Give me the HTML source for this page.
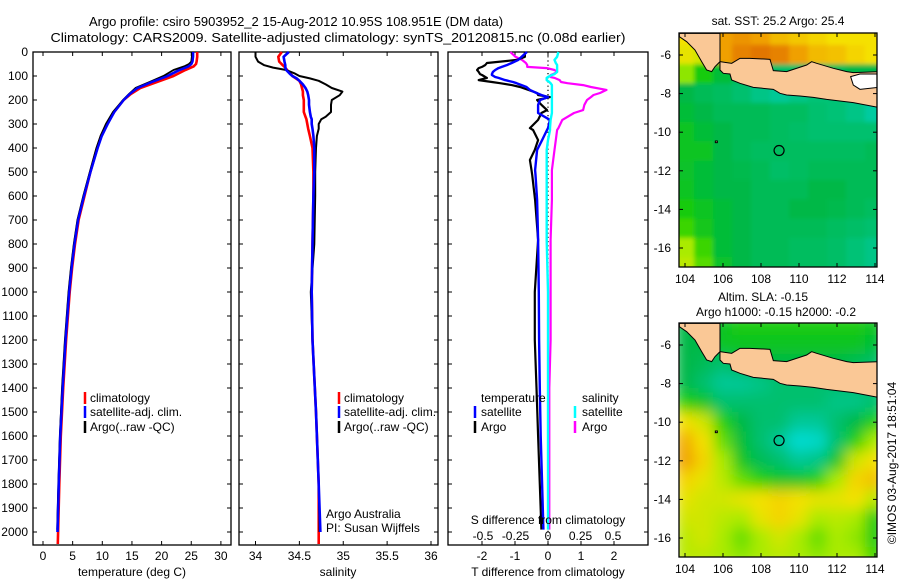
<!DOCTYPE html>
<html><head><meta charset="utf-8">
<style>
html,body{margin:0;padding:0;background:#fff;}
svg{display:block;font-family:"Liberation Sans",sans-serif;}
text{fill:#000;}
</style></head>
<body>
<svg id="chart" width="900" height="580" viewBox="0 0 900 580" xmlns="http://www.w3.org/2000/svg">
<defs>
<clipPath id="cp1"><rect x="33" y="45" width="198" height="500"/></clipPath>
<clipPath id="cp2"><rect x="239" y="45" width="199" height="500"/></clipPath>
<clipPath id="cp3"><rect x="448" y="45" width="200" height="500"/></clipPath>
<clipPath id="cpm1"><rect x="679" y="33" width="198" height="234"/></clipPath>
<clipPath id="cpm2"><rect x="679" y="323" width="198" height="234"/></clipPath>
<filter id="blur1" x="-5%" y="-5%" width="110%" height="110%"><feGaussianBlur stdDeviation="2"/></filter>
<filter id="blur2" x="-5%" y="-5%" width="110%" height="110%"><feGaussianBlur stdDeviation="7"/></filter>
</defs>
<text x="296" y="26" font-size="13" text-anchor="middle">Argo profile: csiro 5903952_2 15-Aug-2012 10.95S 108.951E (DM data)</text>
<text x="338" y="42" font-size="13" text-anchor="middle" textLength="575" lengthAdjust="spacingAndGlyphs">Climatology: CARS2009. Satellite-adjusted climatology: synTS_20120815.nc (0.08d earlier)</text>
<g id="g"></g>
<text x="778" y="25" font-size="12" text-anchor="middle">sat. SST: 25.2 Argo: 25.4</text>
<text x="763" y="301" font-size="12" text-anchor="middle">Altim. SLA: -0.15</text>
<text x="776" y="316" font-size="12" text-anchor="middle">Argo h1000: -0.15 h2000: -0.2</text>
<text transform="translate(896,463) rotate(-90)" font-size="12" text-anchor="middle">©IMOS 03-Aug-2017 18:51:04</text>
<text x="326" y="518" font-size="12">Argo Australia</text>
<text x="326" y="532" font-size="12">PI: Susan Wijffels</text>
</svg>
<script>
// ---- temperature panel data ----
const tDepth = [0,20,40,50,60,75,100,125,150,175,200,250,300,350,400,500,600,700,800,900,1000,1200,1400,1600,1800,2000,2050];
const tClim  = [26.0,26.0,25.9,25.8,25.4,24.0,22.0,19.2,16.4,14.8,13.6,12.0,10.8,9.8,9.1,8.0,7.0,6.0,5.4,4.9,4.5,3.9,3.4,3.0,2.75,2.55,2.5];
const tSat   = [25.3,25.3,25.2,25.0,24.5,23.0,21.0,18.3,15.9,14.6,13.6,12.0,10.9,9.9,9.2,8.0,6.9,5.9,5.3,4.8,4.4,3.8,3.3,2.9,2.65,2.45];
const tArgo  = [25.2,25.1,25.0,24.6,23.8,22.0,20.3,18.0,15.6,14.5,13.5,11.8,10.6,9.7,9.0,7.9,6.8,5.8,5.2,4.7,4.3,3.7,3.2,2.85,2.6,2.4];
const tTicks = [0,5,10,15,20,25,30];
// ---- salinity panel data ----
const sDepth = [0,20,40,55,65,75,90,100,110,120,135,150,165,180,200,220,250,270,280,300,320,350,400,500,600,800,1000,1200,1500,1800,2000,2050];
const sClim  = [34.30,34.26,34.27,34.31,34.34,34.36,34.40,34.42,34.46,34.50,34.52,34.53,34.54,34.54,34.55,34.55,34.55,34.57,34.58,34.59,34.60,34.62,34.65,34.66,34.66,34.65,34.64,34.65,34.69,34.72,34.72,34.72];
const sSat   = [34.38,34.32,34.33,34.34,34.34,34.35,34.39,34.42,34.47,34.50,34.54,34.57,34.59,34.60,34.61,34.61,34.62,34.63,34.64,34.64,34.65,34.66,34.67,34.67,34.66,34.65,34.64,34.65,34.69,34.72,34.74];
const sArgo  = [34.00,34.00,34.03,34.10,34.20,34.35,34.45,34.50,34.62,34.72,34.80,34.87,34.99,34.96,34.87,34.86,34.86,34.80,34.75,34.72,34.72,34.70,34.69,34.68,34.68,34.67,34.63,34.65,34.69,34.72,34.73];
const sTicks = [34,34.5,35,35.5,36];
// ---- difference panel data ----
const dDepth = [0,20,33,46,54,62,67,75,83,92,96,104,108,117,125,130,138,146,158,171,179,188,200,220,242,254,283,317,325,367,408,450,492,512,617,783,1000,1200,1400,1600,1800,1990];
const tDiffArgo = [-0.7,-0.7,-0.94,-1.85,-1.9,-2.0,-2.1,-2.15,-2.1,-2.06,-2.0,-1.9,-1.85,-2.1,-1.7,-1.45,-1.1,-0.85,-0.6,-0.33,-0.3,0.06,-0.33,-0.2,-0.03,-0.2,-0.3,-0.55,-0.45,-0.3,-0.4,-0.55,-0.5,-0.48,-0.39,-0.3,-0.4,-0.4,-0.35,-0.3,-0.25,-0.2];
const tDiffSat  = [-0.64,-0.8,-0.9,-1.1,-1.24,-1.4,-1.5,-1.6,-1.67,-1.7,-1.7,-1.6,-1.5,-1.3,-1.06,-0.95,-0.8,-0.65,-0.55,-0.35,-0.2,0.0,-0.24,-0.3,-0.3,-0.3,0.06,0.0,-0.03,-0.18,-0.33,-0.36,-0.39,-0.38,-0.33,-0.3,-0.28,-0.27,-0.25,-0.22,-0.18,-0.14];
const sDiffSat  = [0.08,0.07,0.05,0.06,0.07,0.07,0.07,0.07,0.07,0.05,0.03,0.0,-0.01,-0.01,0.01,0.02,0.03,0.03,0.03,0.03,0.03,0.03,0.03,0.03,0.03,0.03,0.02,0.015,0.015,0.0,-0.01,-0.01,-0.01,-0.01,-0.01,-0.01,0.0,0.0,0.0,0.0,0.0,0.0];
const sDiffArgo = [-0.29,-0.25,-0.2,-0.17,-0.16,-0.16,-0.01,0.05,0.07,0.04,0.02,0.02,0.05,0.09,0.1,0.15,0.27,0.33,0.45,0.4,0.35,0.33,0.3,0.28,0.27,0.2,0.11,0.08,0.07,0.06,0.05,0.04,0.03,0.03,0.03,0.02,0.02,0.02,0.01,0.01,0.01,0.01];
const dTTicks = [-2,-1,0,1,2];
const dSTicks = [-0.5,-0.25,0,0.25,0.5];
const dSTickLabels = ["-0.5","-0.25","0","0.25","0.5"];
const depthTicks = [0,100,200,300,400,500,600,700,800,900,1000,1100,1200,1300,1400,1500,1600,1700,1800,1900,2000];
// ---- map data (colour index 0..1) rows lat -5..-17, cols lon 104..114 ----
const mapLons = [104,105,106,107,108,109,110,111,112,113,114];
const mapLats = [-5,-6,-7,-8,-9,-10,-11,-12,-13,-14,-15,-16,-17];
const sstGrid = [
 [0.80,0.80,0.90,0.92,0.90,0.86,0.84,0.82,0.80,0.80,0.80],
 [0.78,0.75,0.90,0.95,0.97,0.95,0.90,0.86,0.85,0.82,0.80],
 [0.68,0.58,0.52,0.48,0.46,0.46,0.46,0.46,0.48,0.50,0.50],
 [0.50,0.48,0.47,0.45,0.42,0.40,0.42,0.44,0.44,0.42,0.36],
 [0.52,0.50,0.48,0.48,0.48,0.47,0.47,0.45,0.44,0.42,0.38],
 [0.55,0.52,0.50,0.48,0.48,0.47,0.46,0.45,0.45,0.45,0.45],
 [0.55,0.55,0.50,0.48,0.47,0.47,0.47,0.47,0.47,0.47,0.48],
 [0.54,0.52,0.50,0.49,0.48,0.46,0.47,0.48,0.48,0.48,0.48],
 [0.55,0.52,0.50,0.50,0.48,0.48,0.48,0.50,0.50,0.48,0.48],
 [0.58,0.55,0.52,0.50,0.48,0.48,0.50,0.50,0.49,0.48,0.47],
 [0.62,0.56,0.52,0.50,0.48,0.48,0.48,0.48,0.47,0.46,0.45],
 [0.70,0.62,0.52,0.50,0.48,0.48,0.47,0.47,0.46,0.44,0.42],
 [0.72,0.64,0.54,0.50,0.48,0.48,0.47,0.47,0.46,0.44,0.42]];
const slaGrid = [
 [0.50,0.50,0.55,0.58,0.58,0.58,0.58,0.58,0.58,0.58,0.55],
 [0.50,0.50,0.55,0.55,0.55,0.55,0.55,0.55,0.55,0.55,0.52],
 [0.50,0.48,0.45,0.50,0.50,0.50,0.50,0.50,0.50,0.48,0.45],
 [0.50,0.45,0.40,0.40,0.42,0.45,0.45,0.45,0.45,0.45,0.45],
 [0.60,0.55,0.45,0.45,0.45,0.45,0.45,0.45,0.42,0.42,0.45],
 [0.80,0.75,0.60,0.50,0.45,0.45,0.40,0.40,0.45,0.50,0.60],
 [0.88,0.80,0.65,0.52,0.45,0.40,0.28,0.30,0.45,0.60,0.70],
 [0.90,0.82,0.70,0.55,0.48,0.45,0.40,0.42,0.55,0.75,0.80],
 [0.82,0.78,0.72,0.65,0.60,0.55,0.55,0.60,0.70,0.82,0.85],
 [0.78,0.75,0.75,0.78,0.80,0.82,0.80,0.78,0.78,0.80,0.72],
 [0.75,0.75,0.72,0.70,0.78,0.82,0.78,0.70,0.72,0.70,0.58],
 [0.72,0.75,0.70,0.65,0.70,0.75,0.70,0.65,0.70,0.68,0.58],
 [0.72,0.72,0.70,0.68,0.70,0.72,0.70,0.68,0.70,0.70,0.62]];
const mapXTicks = [104,106,108,110,112,114];
const mapYTicks = [-6,-8,-10,-12,-14,-16];
const argoLon = 108.951, argoLat = -10.95;

const NS = "http://www.w3.org/2000/svg";
const G = document.getElementById('g');
function mk(tag, attrs, parent) {
  const e = document.createElementNS(NS, tag);
  for (const k in attrs) e.setAttribute(k, attrs[k]);
  (parent || G).appendChild(e);
  return e;
}
function txt(x, y, s, size, anchor, parent) {
  const t = mk('text', {x: x, y: y, 'font-size': size, 'text-anchor': anchor || 'middle'}, parent);
  t.textContent = s;
  return t;
}
const yD = d => 52 + d * 0.24;
const xT = v => 43 + v * 5.93;
const xS = v => 255.5 + (v - 34) * 87.75;
const xDT = v => 548 + v * 33;
const xDS = v => 548 + v * 130;

function frame(x0, x1, name) {
  const r = mk('rect', {x: x0, y: 52, width: x1 - x0, height: 493, fill: 'none', stroke: '#000', 'stroke-width': 1.3});
  
  
  depthTicks.forEach(d => {
    mk('line', {x1: x0, x2: x0 + 4, y1: yD(d), y2: yD(d), stroke: '#000'});
    mk('line', {x1: x1 - 4, x2: x1, y1: yD(d), y2: yD(d), stroke: '#000'});
  });
}
function xTicks(vals, labels, sc, name) {
  vals.forEach((v, i) => {
    const x = sc(v);
    mk('line', {x1: x, x2: x, y1: 545, y2: 541, stroke: '#000'});
    mk('line', {x1: x, x2: x, y1: 52, y2: 56, stroke: '#000'});
    const t = txt(x, 560, labels[i], 12);
    
    
  });
}
function line(depths, vals, sc, color, clip, name, w) {
  const n = Math.min(depths.length, vals.length);
  let d = '';
  for (let i = 0; i < n; i++) d += (i ? 'L' : 'M') + sc(vals[i]).toFixed(1) + ' ' + yD(depths[i]).toFixed(1);
  const p = mk('path', {d: d, fill: 'none', stroke: color, 'stroke-width': w || 2.6, 'stroke-linejoin': 'round', 'clip-path': 'url(#' + clip + ')'});
  
  
}
function legendRow(bx, tx, y, color, label, name) {
  if (color) mk('line', {x1: bx, x2: bx, y1: y - 6, y2: y + 6, stroke: color, 'stroke-width': 2.5});
  const t = txt(tx, y + 4, label, 12, 'start');
  
  
}

depthTicks.forEach(d => {
  const t = txt(28, yD(d) + 4, String(d), 12, 'end');
  
  
});

frame(33, 231, 'temperature-panel-frame');
xTicks(tTicks, tTicks.map(String), xT, 'temperature-tick-label');
line(tDepth, tClim, xT, '#ff0000', 'cp1', 'temperature-climatology-line');
line(tDepth, tSat, xT, '#0000ff', 'cp1', 'temperature-satellite-line');
line(tDepth.slice(0, 25).concat([1990]), tArgo.slice(0, 26), xT, '#000000', 'cp1', 'temperature-argo-line', 1.8);
line(tDepth, tSat, xT, '#0000ff', 'cp1', 'temperature-satellite-line-top', 2.2);
legendRow(85, 90, 398, '#ff0000', 'climatology', 'legend-climatology');
legendRow(85, 90, 412, '#0000ff', 'satellite-adj. clim.', 'legend-satellite');
legendRow(85, 90, 427, '#000000', 'Argo(..raw -QC)', 'legend-argo');
let t1 = txt(132, 576, 'temperature (deg C)', 12);



frame(239, 438, 'salinity-panel-frame');
xTicks(sTicks, sTicks.map(String), xS, 'salinity-tick-label');
line(sDepth, sClim, xS, '#ff0000', 'cp2', 'salinity-climatology-line');
line(sDepth, sArgo, xS, '#000000', 'cp2', 'salinity-argo-line', 2);
line(sDepth, sSat, xS, '#0000ff', 'cp2', 'salinity-satellite-line');
legendRow(339, 344, 398, '#ff0000', 'climatology', 'legend-climatology-2');
legendRow(339, 344, 412, '#0000ff', 'satellite-adj. clim.', 'legend-satellite-2');
legendRow(339, 344, 427, '#000000', 'Argo(..raw -QC)', 'legend-argo-2');
let t2 = txt(338, 576, 'salinity', 12);



frame(448, 648, 'difference-panel-frame');
xTicks(dTTicks, dTTicks.map(String), xDT, 'tdiff-tick-label');
mk('line', {x1: 548, x2: 548, y1: 52, y2: 545, stroke: '#000', 'stroke-width': 1.2, 'stroke-dasharray': '1.2 3'});
line(dDepth, sDiffArgo, xDS, '#ff00ff', 'cp3', 'salinity-diff-argo-line', 2.2);
line(dDepth, tDiffArgo, xDT, '#000000', 'cp3', 'temperature-diff-argo-line', 2.2);
line(dDepth, tDiffSat, xDT, '#0000ff', 'cp3', 'temperature-diff-satellite-line', 2.4);
line(dDepth, sDiffSat, xDS, '#00ffff', 'cp3', 'salinity-diff-satellite-line', 2.4);
legendRow(475, 481, 398, null, 'temperature', 'legend-temperature-heading');
legendRow(475, 481, 412, '#0000ff', 'satellite', 'legend-t-satellite');
legendRow(475, 481, 427, '#000000', 'Argo', 'legend-t-argo');
legendRow(575, 582, 398, null, 'salinity', 'legend-salinity-heading');
legendRow(575, 582, 412, '#00ffff', 'satellite', 'legend-s-satellite');
legendRow(575, 582, 427, '#ff00ff', 'Argo', 'legend-s-argo');
let t3 = txt(548, 524, 'S difference from climatology', 12);


dSTicks.forEach((v, i) => {
  const t = txt(xDS(v), 540, dSTickLabels[i], 12);
  
  
});
let t4 = txt(548, 576, 'T difference from climatology', 12);



const stops = [[0,[0,64,255]],[0.25,[0,224,224]],[0.4,[0,200,150]],[0.5,[0,184,70]],[0.6,[30,208,0]],[0.7,[170,235,0]],[0.8,[245,225,0]],[0.9,[240,160,0]],[1,[220,100,0]]];
function cmap(v) {
  for (let i = 1; i < stops.length; i++) {
    if (v <= stops[i][0]) {
      const a = stops[i-1], b = stops[i], f = (v - a[0]) / (b[0] - a[0]);
      const c = a[1].map((x, k) => Math.round(x + (b[1][k] - x) * f));
      return 'rgb(' + c.join(',') + ')';
    }
  }
  return 'rgb(220,100,0)';
}
const mxLon = lon => 685 + (lon - 104) * 19;
function drawMap(grid, off, clip, blur, name) {
  const myLat = lat => 55 + off + (-6 - lat) * 19.3;
  const wrap = mk('g', {'clip-path': 'url(#' + clip + ')'});
  
  
  const cells = mk('g', {filter: 'url(#' + blur + ')'}, wrap);
  grid.forEach((row, r) => row.forEach((v, c) => {
    const lon = mapLons[c], lat = mapLats[r];
    const cell = mk('rect', {x: mxLon(lon - 0.5) - 0.5, y: myLat(lat + 0.5) - 0.5, width: 20, height: 20.3, fill: cmap(v)}, cells);
    
    
  }));
  const lg = mk('g', {transform: 'translate(640,' + off + ') scale(0.3333)'}, wrap);
  const sum = mk('polygon', {points: '118,100 240,100 240,185 225,200 215,215 200,210 185,185 165,150 140,125 118,110', fill: '#fac896', stroke: '#000', 'stroke-width': 3}, lg);
  
  
  const java = mk('polygon', {points: '240,185 275,190 300,175 330,175 390,178 400,212 440,215 500,195 515,185 530,190 580,205 620,215 640,218 715,215 715,322 640,308 560,298 520,292 480,288 440,285 420,280 400,268 340,262 300,250 275,240 270,222 250,220 240,210', fill: '#fac896', stroke: '#000', 'stroke-width': 3}, lg);
  
  
  if (off === 0) {
    const wb = mk('polygon', {points: '632,230 660,222 715,222 715,262 660,268 640,255', fill: '#ffffff', stroke: '#000', 'stroke-width': 3}, lg);
    
    
  }
  mk('rect', {x: 226, y: 423, width: 6, height: 5, fill: '#fac896', stroke: '#000', 'stroke-width': 3}, lg);
  const fr = mk('rect', {x: 679, y: 33 + off, width: 198, height: 234, fill: 'none', stroke: '#000', 'stroke-width': 1.3});
  
  
  mapXTicks.forEach(v => {
    const x = mxLon(v);
    mk('line', {x1: x, x2: x, y1: 33 + off, y2: 37 + off, stroke: '#000'});
    mk('line', {x1: x, x2: x, y1: 267 + off, y2: 263 + off, stroke: '#000'});
    const t = txt(x, 283 + off, String(v), 12);
    
    
  });
  mapYTicks.forEach(v => {
    const y = myLat(v);
    mk('line', {x1: 679, x2: 683, y1: y, y2: y, stroke: '#000'});
    mk('line', {x1: 873, x2: 877, y1: y, y2: y, stroke: '#000'});
    const t = txt(671, y + 4, String(v), 12, 'end');
    
    
  });
  const m = mk('circle', {cx: mxLon(argoLon), cy: myLat(argoLat), r: 5, fill: 'none', stroke: '#000', 'stroke-width': 1.2});
  
  
}
drawMap(sstGrid, 0, 'cpm1', 'blur1', 'sst-map');
drawMap(slaGrid, 290, 'cpm2', 'blur2', 'sla-map');
</script>
</body></html>
